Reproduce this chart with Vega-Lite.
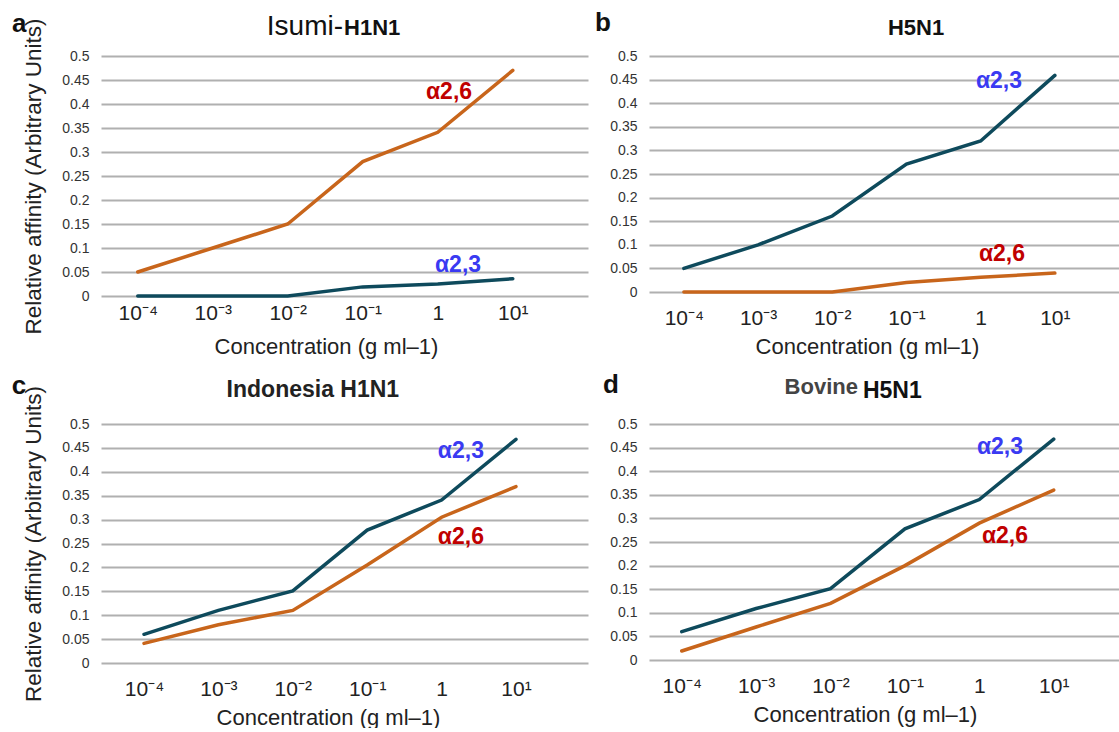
{
  "$schema": "https://vega.github.io/schema/vega-lite/v6.json",
  "background": "white",
  "padding": {"left": 11, "top": 9, "right": 0, "bottom": 0},
  "bounds": "flush",
  "columns": 2,
  "spacing": {"row": 128, "column": 61},
  "datasets": {
    "lines": [
      {"p": "a", "s": "α2,6", "c": -4, "v": 0.05},
      {"p": "a", "s": "α2,6", "c": -3, "v": 0.10},
      {"p": "a", "s": "α2,6", "c": -2, "v": 0.15},
      {"p": "a", "s": "α2,6", "c": -1, "v": 0.28},
      {"p": "a", "s": "α2,6", "c": 0, "v": 0.341},
      {"p": "a", "s": "α2,6", "c": 1, "v": 0.47},
      {"p": "a", "s": "α2,3", "c": -4, "v": 0},
      {"p": "a", "s": "α2,3", "c": -3, "v": 0},
      {"p": "a", "s": "α2,3", "c": -2, "v": 0},
      {"p": "a", "s": "α2,3", "c": -1, "v": 0.019},
      {"p": "a", "s": "α2,3", "c": 0, "v": 0.025},
      {"p": "a", "s": "α2,3", "c": 1, "v": 0.036},
      {"p": "b", "s": "α2,3", "c": -4, "v": 0.05},
      {"p": "b", "s": "α2,3", "c": -3, "v": 0.10},
      {"p": "b", "s": "α2,3", "c": -2, "v": 0.161},
      {"p": "b", "s": "α2,3", "c": -1, "v": 0.271},
      {"p": "b", "s": "α2,3", "c": 0, "v": 0.32},
      {"p": "b", "s": "α2,3", "c": 1, "v": 0.459},
      {"p": "b", "s": "α2,6", "c": -4, "v": 0},
      {"p": "b", "s": "α2,6", "c": -3, "v": 0},
      {"p": "b", "s": "α2,6", "c": -2, "v": 0},
      {"p": "b", "s": "α2,6", "c": -1, "v": 0.02},
      {"p": "b", "s": "α2,6", "c": 0, "v": 0.031},
      {"p": "b", "s": "α2,6", "c": 1, "v": 0.04},
      {"p": "c", "s": "α2,3", "c": -4, "v": 0.06},
      {"p": "c", "s": "α2,3", "c": -3, "v": 0.11},
      {"p": "c", "s": "α2,3", "c": -2, "v": 0.151},
      {"p": "c", "s": "α2,3", "c": -1, "v": 0.278},
      {"p": "c", "s": "α2,3", "c": 0, "v": 0.341},
      {"p": "c", "s": "α2,3", "c": 1, "v": 0.468},
      {"p": "c", "s": "α2,6", "c": -4, "v": 0.041},
      {"p": "c", "s": "α2,6", "c": -3, "v": 0.08},
      {"p": "c", "s": "α2,6", "c": -2, "v": 0.11},
      {"p": "c", "s": "α2,6", "c": -1, "v": 0.205},
      {"p": "c", "s": "α2,6", "c": 0, "v": 0.305},
      {"p": "c", "s": "α2,6", "c": 1, "v": 0.369},
      {"p": "d", "s": "α2,3", "c": -4, "v": 0.06},
      {"p": "d", "s": "α2,3", "c": -3, "v": 0.109},
      {"p": "d", "s": "α2,3", "c": -2, "v": 0.151},
      {"p": "d", "s": "α2,3", "c": -1, "v": 0.278},
      {"p": "d", "s": "α2,3", "c": 0, "v": 0.34},
      {"p": "d", "s": "α2,3", "c": 1, "v": 0.468},
      {"p": "d", "s": "α2,6", "c": -4, "v": 0.019},
      {"p": "d", "s": "α2,6", "c": -3, "v": 0.07},
      {"p": "d", "s": "α2,6", "c": -2, "v": 0.12},
      {"p": "d", "s": "α2,6", "c": -1, "v": 0.2},
      {"p": "d", "s": "α2,6", "c": 0, "v": 0.29},
      {"p": "d", "s": "α2,6", "c": 1, "v": 0.36}
    ],
    "labels": [
      {"p": "a", "s": "α2,6", "c": 0.15, "v": 0.425},
      {"p": "a", "s": "α2,3", "c": 0.27, "v": 0.065},
      {"p": "b", "s": "α2,3", "c": 0.247, "v": 0.447},
      {"p": "b", "s": "α2,6", "c": 0.287, "v": 0.08},
      {"p": "c", "s": "α2,3", "c": 0.26, "v": 0.4435},
      {"p": "c", "s": "α2,6", "c": 0.26, "v": 0.264},
      {"p": "d", "s": "α2,3", "c": 0.278, "v": 0.451},
      {"p": "d", "s": "α2,6", "c": 0.345, "v": 0.263}
    ]
  },
  "concat": [
    {
      "width": 487, "height": 240,
      "layer": [
        {
          "data": {"name": "lines"},
          "transform": [{"filter": "datum.p === 'a'"}],
          "mark": {"type": "line", "strokeWidth": 3.5, "strokeCap": "round"},
          "encoding": {
            "x": {"field": "c", "type": "quantitative", "scale": {"domain": [-4.49, 2.003], "nice": false},
                  "axis": {"values": [-4, -3, -2, -1, 0, 1], "title": "Concentration (g ml–1)", "titleX": 225,
                           "labelPadding": 6, "titlePadding": 13,
                           "labelExpr": "['10⁻⁴','10⁻³','10⁻²','10⁻¹','1','10¹'][datum.value + 4]"}},
            "y": {"field": "v", "type": "quantitative", "scale": {"domain": [0, 0.5], "nice": false},
                  "axis": {"tickCount": 10, "format": ".2~f",
                           "title": "Relative affinity (Arbitrary Units)", "grid": true}},
            "stroke": {"field": "s", "type": "nominal", "scale": {"domain": ["α2,3", "α2,6"], "range": ["#0e4a5c", "#c8651b"]}, "legend": null}
          }
        },
        {
          "data": {"name": "labels"},
          "transform": [{"filter": "datum.p === 'a'"}],
          "mark": {"type": "text", "fontSize": 23, "fontWeight": "bold", "align": "center", "baseline": "middle"},
          "encoding": {
            "x": {"field": "c", "type": "quantitative"},
            "y": {"field": "v", "type": "quantitative"},
            "text": {"field": "s"},
            "fill": {"field": "s", "type": "nominal", "scale": {"domain": ["α2,3", "α2,6"], "range": ["#3a3af2", "#c00000"]}, "legend": null}
          }
        },
        {
          "data": {"values": [{}]},
          "mark": {"type": "text", "text": "a", "fontSize": 26, "fontWeight": "bold", "align": "center", "baseline": "alphabetic", "fill": "#111"},
          "encoding": {"x": {"datum": -5.58}, "y": {"datum": 0.551}}
        },
        {
          "data": {"values": [{}]},
          "mark": {"type": "text", "text": "Isumi-", "fontSize": 28, "align": "right", "baseline": "alphabetic", "fill": "#111"},
          "encoding": {"x": {"datum": -1.263}, "y": {"datum": 0.544}}
        },
        {
          "data": {"values": [{}]},
          "mark": {"type": "text", "text": "H1N1", "fontSize": 22, "fontWeight": "bold", "align": "left", "baseline": "alphabetic", "fill": "#111"},
          "encoding": {"x": {"datum": -1.25}, "y": {"datum": 0.544}}
        }
      ]
    },
    {
      "width": 471, "height": 236,
      "layer": [
        {
          "data": {"name": "lines"},
          "transform": [{"filter": "datum.p === 'b'"}],
          "mark": {"type": "line", "strokeWidth": 3.5, "strokeCap": "round"},
          "encoding": {
            "x": {"field": "c", "type": "quantitative", "scale": {"domain": [-4.47, 1.878], "nice": false},
                  "axis": {"values": [-4, -3, -2, -1, 0, 1], "title": "Concentration (g ml–1)", "titleX": 218,
                           "labelPadding": 15, "titlePadding": 8,
                           "labelExpr": "['10⁻⁴','10⁻³','10⁻²','10⁻¹','1','10¹'][datum.value + 4]"}},
            "y": {"field": "v", "type": "quantitative", "scale": {"domain": [0, 0.5], "nice": false},
                  "axis": {"tickCount": 10, "format": ".2~f",
                           "title": null, "grid": true}},
            "stroke": {"field": "s", "type": "nominal", "scale": {"domain": ["α2,3", "α2,6"], "range": ["#0e4a5c", "#bd6a2c"]}, "legend": null}
          }
        },
        {
          "data": {"name": "labels"},
          "transform": [{"filter": "datum.p === 'b'"}],
          "mark": {"type": "text", "fontSize": 23, "fontWeight": "bold", "align": "center", "baseline": "middle"},
          "encoding": {
            "x": {"field": "c", "type": "quantitative"},
            "y": {"field": "v", "type": "quantitative"},
            "text": {"field": "s"},
            "fill": {"field": "s", "type": "nominal", "scale": {"domain": ["α2,3", "α2,6"], "range": ["#3a3af2", "#c00000"]}, "legend": null}
          }
        },
        {
          "data": {"values": [{}]},
          "mark": {"type": "text", "text": "b", "fontSize": 26, "fontWeight": "bold", "align": "center", "baseline": "alphabetic", "fill": "#111"},
          "encoding": {"x": {"datum": -5.09}, "y": {"datum": 0.553}}
        },
        {
          "data": {"values": [{}]},
          "mark": {"type": "text", "text": "H5N1", "fontSize": 22, "fontWeight": "bold", "align": "center", "baseline": "alphabetic", "fill": "#111"},
          "encoding": {"x": {"datum": -0.87}, "y": {"datum": 0.544}}
        }
      ]
    },
    {
      "width": 487, "height": 239,
      "layer": [
        {
          "data": {"name": "lines"},
          "transform": [{"filter": "datum.p === 'c'"}],
          "mark": {"type": "line", "strokeWidth": 3.5, "strokeCap": "round"},
          "encoding": {
            "x": {"field": "c", "type": "quantitative", "scale": {"domain": [-4.578, 1.968], "nice": false},
                  "axis": {"values": [-4, -3, -2, -1, 0, 1], "title": "Concentration (g ml–1)", "titleX": 227,
                           "labelPadding": 15, "titlePadding": 8,
                           "labelExpr": "['10⁻⁴','10⁻³','10⁻²','10⁻¹','1','10¹'][datum.value + 4]"}},
            "y": {"field": "v", "type": "quantitative", "scale": {"domain": [0, 0.5], "nice": false},
                  "axis": {"tickCount": 10, "format": ".2~f",
                           "title": "Relative affinity (Arbitrary Units)", "grid": true}},
            "stroke": {"field": "s", "type": "nominal", "scale": {"domain": ["α2,3", "α2,6"], "range": ["#0e4a5c", "#bd6a2c"]}, "legend": null}
          }
        },
        {
          "data": {"name": "labels"},
          "transform": [{"filter": "datum.p === 'c'"}],
          "mark": {"type": "text", "fontSize": 23, "fontWeight": "bold", "align": "center", "baseline": "middle"},
          "encoding": {
            "x": {"field": "c", "type": "quantitative"},
            "y": {"field": "v", "type": "quantitative"},
            "text": {"field": "s"},
            "fill": {"field": "s", "type": "nominal", "scale": {"domain": ["α2,3", "α2,6"], "range": ["#3a3af2", "#c00000"]}, "legend": null}
          }
        },
        {
          "data": {"values": [{}]},
          "mark": {"type": "text", "text": "c", "fontSize": 26, "fontWeight": "bold", "align": "center", "baseline": "alphabetic", "fill": "#111"},
          "encoding": {"x": {"datum": -5.68}, "y": {"datum": 0.563}}
        },
        {
          "data": {"values": [{}]},
          "mark": {"type": "text", "text": "Indonesia H1N1", "fontSize": 23, "fontWeight": "bold", "align": "center", "baseline": "alphabetic", "fill": "#222"},
          "encoding": {"x": {"datum": -1.73}, "y": {"datum": 0.556}}
        }
      ]
    },
    {
      "width": 471, "height": 236,
      "layer": [
        {
          "data": {"name": "lines"},
          "transform": [{"filter": "datum.p === 'd'"}],
          "mark": {"type": "line", "strokeWidth": 3.5, "strokeCap": "round"},
          "encoding": {
            "x": {"field": "c", "type": "quantitative", "scale": {"domain": [-4.44, 1.891], "nice": false},
                  "axis": {"values": [-4, -3, -2, -1, 0, 1], "title": "Concentration (g ml–1)", "titleX": 216,
                           "labelPadding": 15, "titlePadding": 8,
                           "labelExpr": "['10⁻⁴','10⁻³','10⁻²','10⁻¹','1','10¹'][datum.value + 4]"}},
            "y": {"field": "v", "type": "quantitative", "scale": {"domain": [0, 0.5], "nice": false},
                  "axis": {"tickCount": 10, "format": ".2~f",
                           "title": null, "grid": true}},
            "stroke": {"field": "s", "type": "nominal", "scale": {"domain": ["α2,3", "α2,6"], "range": ["#0e4a5c", "#bd6a2c"]}, "legend": null}
          }
        },
        {
          "data": {"name": "labels"},
          "transform": [{"filter": "datum.p === 'd'"}],
          "mark": {"type": "text", "fontSize": 23, "fontWeight": "bold", "align": "center", "baseline": "middle"},
          "encoding": {
            "x": {"field": "c", "type": "quantitative"},
            "y": {"field": "v", "type": "quantitative"},
            "text": {"field": "s"},
            "fill": {"field": "s", "type": "nominal", "scale": {"domain": ["α2,3", "α2,6"], "range": ["#3a3af2", "#c00000"]}, "legend": null}
          }
        },
        {
          "data": {"values": [{}]},
          "mark": {"type": "text", "text": "d", "fontSize": 26, "fontWeight": "bold", "align": "center", "baseline": "alphabetic", "fill": "#111"},
          "encoding": {"x": {"datum": -4.95}, "y": {"datum": 0.566}}
        },
        {
          "data": {"values": [{}]},
          "mark": {"type": "text", "text": "Bovine", "fontSize": 22, "fontWeight": "bold", "align": "right", "baseline": "alphabetic", "fill": "#444"},
          "encoding": {"x": {"datum": -1.631}, "y": {"datum": 0.5636}}
        },
        {
          "data": {"values": [{}]},
          "mark": {"type": "text", "text": "H5N1", "fontSize": 23, "fontWeight": "bold", "align": "left", "baseline": "alphabetic", "fill": "#111"},
          "encoding": {"x": {"datum": -1.564}, "y": {"datum": 0.555}}
        }
      ]
    }
  ],
  "config": {
    "font": "Liberation Sans",
    "view": {"stroke": null},
    "axisY": {
      "domain": false, "ticks": false, "labelFontSize": 14, "labelColor": "#333", "labelPadding": 12, "labelOverlap": false,
      "gridColor": "#b0b0b0", "gridWidth": 2, "gridOpacity": 1,
      "titleFontSize": 22.5, "titleFontWeight": "normal", "titleColor": "#222", "titlePadding": 16
    },
    "axisX": {
      "domain": false, "ticks": false, "grid": false, "labelFontSize": 21, "labelColor": "#222", "labelOverlap": false,
      "titleFontSize": 22, "titleFontWeight": "normal", "titleColor": "#222"
    },
    "text": {"font": "Liberation Sans"}
  }
}
